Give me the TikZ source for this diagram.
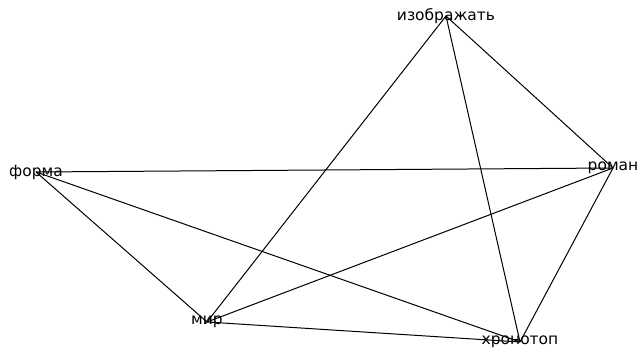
\documentclass[tikz,border=0pt]{standalone}
\usepackage{fontspec}
\setmainfont{DejaVu Sans}
\tikzset{
  word/.style={inner sep=0pt, font=\fontsize{11.6}{13}\selectfont},
  link/.style={draw=black, line width=0.75pt}
}
\begin{document}
\begin{tikzpicture}[x=0.75pt, y=-0.75pt]
  \useasboundingbox (0,0) rectangle (639,352);

  % word positions
  \node[word] (izobr) at (446,16) {изображать};
  \node[word] (roman) at (613,168) {роман};
  \node[word] (forma) at (36,172) {форма};
  \node[word] (mir) at (207,322) {мир};
  \node[word] (chrono) at (520,342) {хронотоп};

  % links
  \draw[link] (izobr.center) -- (mir.center);
  \draw[link] (izobr.center) -- (chrono.center);
  \draw[link] (izobr.center) -- (roman.center);
  \draw[link] (forma.center) -- (roman.center);
  \draw[link] (forma.center) -- (mir.center);
  \draw[link] (forma.center) -- (chrono.center);
  \draw[link] (roman.center) -- (mir.center);
  \draw[link] (roman.center) -- (chrono.center);
  \draw[link] (mir.center) -- (chrono.center);

\end{tikzpicture}
\end{document}
